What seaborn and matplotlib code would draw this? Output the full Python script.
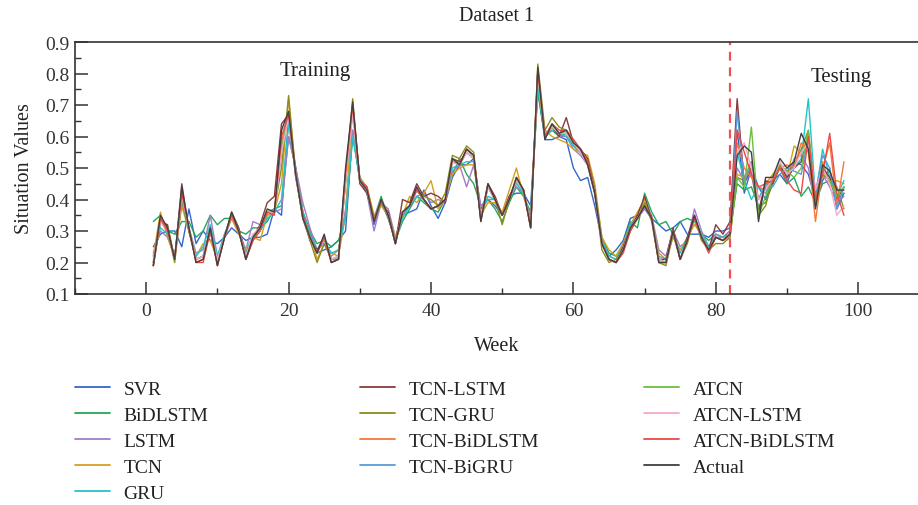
import numpy as np
import pandas as pd
import matplotlib
matplotlib.use("Agg")
import matplotlib.pyplot as plt
from matplotlib.lines import Line2D
from matplotlib.ticker import MultipleLocator
import seaborn as sns

weeks = list(range(1, 99))

svr = [0.25,0.29,0.30,0.30,0.25,0.37,0.26,0.30,0.27,0.26,
       0.28,0.31,0.29,0.27,0.28,0.28,0.29,0.37,0.35,0.66,
       0.50,0.36,0.30,0.23,0.24,0.25,0.27,0.30,0.62,0.46,
       0.43,0.32,0.39,0.34,0.27,0.35,0.36,0.37,0.43,0.38,
       0.34,0.39,0.47,0.51,0.51,0.53,0.37,0.40,0.38,0.35,
       0.41,0.42,0.42,0.38,0.75,0.59,0.59,0.60,0.59,0.50,
       0.46,0.47,0.38,0.27,0.22,0.24,0.27,0.34,0.35,0.37,
       0.34,0.32,0.30,0.31,0.33,0.29,0.29,0.29,0.28,0.30,
       0.30,0.31,0.62,0.42,0.50,0.44,0.40,0.46,0.48,0.45,
       0.52,0.51,0.48,0.40,0.46,0.50,0.37,0.42]

bidlstm = [0.33,0.35,0.30,0.29,0.33,0.33,0.28,0.30,0.35,0.32,
           0.34,0.34,0.30,0.29,0.31,0.31,0.33,0.37,0.38,0.60,
           0.50,0.36,0.30,0.26,0.27,0.25,0.27,0.34,0.60,0.47,
           0.42,0.34,0.41,0.34,0.27,0.33,0.37,0.41,0.39,0.37,
           0.36,0.40,0.48,0.53,0.48,0.45,0.38,0.40,0.37,0.33,
           0.39,0.44,0.41,0.36,0.74,0.60,0.62,0.60,0.61,0.57,
           0.55,0.52,0.43,0.28,0.23,0.22,0.26,0.33,0.31,0.42,
           0.36,0.32,0.33,0.29,0.33,0.34,0.33,0.29,0.27,0.29,
           0.28,0.30,0.45,0.43,0.44,0.38,0.39,0.45,0.50,0.45,
           0.47,0.41,0.44,0.39,0.45,0.46,0.40,0.42]

lstm = [0.23,0.30,0.28,0.22,0.39,0.31,0.23,0.24,0.35,0.22,
        0.28,0.34,0.30,0.24,0.33,0.32,0.35,0.36,0.37,0.60,
        0.50,0.39,0.31,0.24,0.26,0.22,0.24,0.37,0.62,0.46,
        0.42,0.30,0.39,0.37,0.28,0.35,0.38,0.41,0.42,0.39,
        0.40,0.39,0.49,0.51,0.44,0.51,0.38,0.40,0.40,0.35,
        0.41,0.44,0.42,0.34,0.78,0.60,0.63,0.60,0.60,0.56,
        0.54,0.51,0.43,0.27,0.22,0.21,0.26,0.32,0.34,0.37,
        0.35,0.24,0.22,0.30,0.25,0.27,0.37,0.30,0.25,0.29,
        0.28,0.30,0.50,0.46,0.48,0.36,0.44,0.47,0.50,0.46,
        0.53,0.54,0.50,0.38,0.48,0.44,0.39,0.41]

tcn = [0.22,0.36,0.28,0.22,0.38,0.30,0.22,0.26,0.27,0.21,
       0.29,0.34,0.29,0.24,0.28,0.27,0.35,0.36,0.45,0.72,
       0.48,0.36,0.29,0.21,0.26,0.23,0.22,0.35,0.70,0.47,
       0.44,0.35,0.38,0.35,0.28,0.35,0.41,0.39,0.42,0.46,
       0.37,0.40,0.48,0.50,0.51,0.51,0.35,0.39,0.39,0.36,
       0.43,0.50,0.41,0.33,0.77,0.62,0.60,0.59,0.58,0.56,
       0.55,0.54,0.45,0.28,0.24,0.22,0.26,0.32,0.36,0.40,
       0.34,0.23,0.21,0.28,0.24,0.28,0.32,0.29,0.25,0.28,
       0.27,0.28,0.48,0.47,0.52,0.40,0.45,0.48,0.51,0.47,
       0.57,0.55,0.60,0.38,0.52,0.45,0.46,0.45]

gru = [0.22,0.31,0.29,0.22,0.40,0.30,0.22,0.25,0.32,0.22,
       0.29,0.35,0.30,0.23,0.29,0.30,0.34,0.36,0.40,0.64,
       0.49,0.36,0.29,0.24,0.27,0.23,0.24,0.35,0.60,0.47,
       0.43,0.33,0.40,0.35,0.27,0.34,0.38,0.41,0.40,0.37,
       0.38,0.40,0.50,0.51,0.52,0.52,0.35,0.41,0.40,0.35,
       0.40,0.45,0.42,0.34,0.76,0.60,0.62,0.61,0.60,0.57,
       0.55,0.52,0.43,0.27,0.22,0.21,0.25,0.32,0.34,0.38,
       0.34,0.22,0.21,0.29,0.23,0.28,0.34,0.29,0.25,0.28,
       0.28,0.29,0.55,0.46,0.40,0.44,0.42,0.47,0.50,0.48,
       0.50,0.53,0.72,0.41,0.56,0.47,0.41,0.46]

tcn_lstm = [0.19,0.33,0.32,0.21,0.45,0.30,0.21,0.22,0.30,0.20,
            0.28,0.36,0.31,0.22,0.28,0.32,0.39,0.41,0.64,0.67,
            0.47,0.35,0.27,0.24,0.28,0.21,0.21,0.48,0.70,0.45,
            0.42,0.34,0.39,0.36,0.26,0.40,0.39,0.45,0.41,0.42,
            0.41,0.39,0.53,0.52,0.55,0.53,0.34,0.45,0.41,0.35,
            0.41,0.46,0.43,0.32,0.81,0.60,0.63,0.60,0.66,0.58,
            0.56,0.53,0.43,0.26,0.21,0.20,0.25,0.31,0.35,0.41,
            0.34,0.21,0.21,0.31,0.21,0.28,0.35,0.28,0.24,0.32,
            0.29,0.33,0.72,0.45,0.50,0.36,0.46,0.45,0.51,0.47,
            0.50,0.52,0.60,0.40,0.50,0.47,0.40,0.44]

tcn_gru = [0.20,0.33,0.30,0.20,0.40,0.30,0.21,0.22,0.30,0.20,
           0.28,0.35,0.30,0.21,0.27,0.31,0.36,0.37,0.50,0.73,
           0.48,0.34,0.27,0.20,0.26,0.21,0.22,0.45,0.72,0.46,
           0.44,0.34,0.39,0.35,0.26,0.36,0.38,0.43,0.41,0.40,
           0.38,0.42,0.54,0.53,0.57,0.55,0.34,0.44,0.40,0.32,
           0.40,0.47,0.43,0.31,0.83,0.62,0.66,0.63,0.62,0.59,
           0.56,0.52,0.43,0.24,0.20,0.21,0.24,0.30,0.34,0.39,
           0.33,0.20,0.19,0.29,0.21,0.26,0.34,0.27,0.24,0.26,
           0.26,0.28,0.47,0.46,0.50,0.35,0.38,0.47,0.51,0.49,
           0.51,0.56,0.62,0.39,0.48,0.46,0.44,0.37]

tcn_bidlstm = [0.19,0.34,0.31,0.21,0.42,0.31,0.20,0.21,0.31,0.19,
               0.28,0.35,0.30,0.21,0.28,0.31,0.36,0.36,0.58,0.68,
               0.48,0.34,0.28,0.23,0.28,0.20,0.21,0.48,0.70,0.46,
               0.43,0.33,0.40,0.35,0.26,0.36,0.38,0.43,0.40,0.37,
               0.38,0.40,0.52,0.51,0.56,0.54,0.34,0.44,0.40,0.35,
               0.40,0.46,0.43,0.31,0.80,0.60,0.64,0.61,0.62,0.58,
               0.55,0.51,0.42,0.26,0.21,0.20,0.24,0.31,0.34,0.38,
               0.34,0.20,0.20,0.30,0.21,0.27,0.34,0.28,0.24,0.28,
               0.27,0.29,0.58,0.50,0.47,0.44,0.43,0.46,0.50,0.51,
               0.50,0.58,0.55,0.33,0.50,0.58,0.38,0.52]

tcn_bigru = [0.20,0.33,0.31,0.21,0.42,0.31,0.21,0.22,0.30,0.20,
             0.28,0.35,0.30,0.22,0.28,0.31,0.36,0.36,0.55,0.67,
             0.48,0.34,0.28,0.23,0.28,0.21,0.21,0.46,0.69,0.46,
             0.43,0.33,0.40,0.35,0.26,0.36,0.38,0.43,0.40,0.37,
             0.38,0.40,0.52,0.51,0.55,0.53,0.34,0.44,0.40,0.35,
             0.40,0.46,0.43,0.32,0.80,0.60,0.63,0.61,0.61,0.58,
             0.55,0.51,0.42,0.26,0.21,0.20,0.24,0.31,0.34,0.38,
             0.34,0.21,0.20,0.30,0.21,0.27,0.34,0.28,0.24,0.28,
             0.27,0.29,0.68,0.45,0.52,0.40,0.45,0.44,0.48,0.50,
             0.49,0.48,0.60,0.42,0.54,0.50,0.37,0.44]

atcn = [0.20,0.33,0.31,0.21,0.41,0.31,0.21,0.22,0.30,0.20,
        0.28,0.35,0.30,0.22,0.28,0.31,0.36,0.36,0.56,0.67,
        0.48,0.34,0.28,0.23,0.28,0.21,0.21,0.46,0.68,0.46,
        0.43,0.33,0.40,0.35,0.26,0.36,0.38,0.43,0.40,0.37,
        0.38,0.40,0.52,0.51,0.55,0.53,0.34,0.44,0.40,0.35,
        0.40,0.46,0.43,0.32,0.79,0.60,0.63,0.61,0.61,0.58,
        0.55,0.51,0.42,0.26,0.21,0.20,0.24,0.31,0.34,0.38,
        0.34,0.21,0.20,0.30,0.21,0.27,0.34,0.28,0.24,0.28,
        0.27,0.29,0.47,0.44,0.63,0.35,0.41,0.47,0.51,0.49,
        0.47,0.50,0.62,0.40,0.49,0.46,0.41,0.44]

atcn_lstm = [0.21,0.33,0.30,0.21,0.41,0.31,0.21,0.22,0.30,0.21,
             0.28,0.35,0.30,0.22,0.29,0.31,0.36,0.36,0.55,0.66,
             0.48,0.34,0.28,0.23,0.28,0.21,0.22,0.46,0.67,0.46,
             0.43,0.33,0.40,0.35,0.26,0.36,0.38,0.43,0.40,0.37,
             0.38,0.40,0.52,0.51,0.55,0.53,0.34,0.44,0.40,0.35,
             0.40,0.46,0.43,0.32,0.79,0.60,0.63,0.61,0.61,0.58,
             0.55,0.51,0.42,0.26,0.21,0.20,0.24,0.31,0.34,0.38,
             0.34,0.21,0.20,0.30,0.21,0.27,0.34,0.28,0.24,0.28,
             0.27,0.29,0.55,0.58,0.50,0.40,0.43,0.47,0.52,0.48,
             0.50,0.55,0.58,0.43,0.50,0.45,0.35,0.38]

atcn_bidlstm = [0.19,0.34,0.30,0.21,0.42,0.31,0.20,0.20,0.30,0.19,
                0.28,0.35,0.30,0.21,0.27,0.30,0.36,0.35,0.60,0.67,
                0.48,0.35,0.28,0.23,0.28,0.20,0.21,0.48,0.70,0.46,
                0.44,0.33,0.40,0.35,0.26,0.36,0.38,0.43,0.40,0.37,
                0.38,0.40,0.53,0.51,0.56,0.54,0.33,0.45,0.40,0.35,
                0.40,0.47,0.43,0.31,0.81,0.60,0.64,0.62,0.62,0.59,
                0.56,0.52,0.42,0.26,0.21,0.20,0.23,0.30,0.34,0.38,
                0.34,0.20,0.20,0.30,0.21,0.27,0.34,0.28,0.23,0.28,
                0.27,0.29,0.62,0.55,0.48,0.44,0.45,0.46,0.50,0.46,
                0.43,0.42,0.60,0.40,0.48,0.61,0.42,0.35]

actual = [0.19,0.35,0.31,0.21,0.44,0.31,0.20,0.21,0.31,0.19,
          0.28,0.36,0.30,0.21,0.28,0.31,0.37,0.36,0.62,0.68,
          0.48,0.34,0.28,0.23,0.29,0.20,0.21,0.50,0.71,0.46,
          0.43,0.33,0.40,0.35,0.26,0.36,0.38,0.44,0.40,0.37,
          0.38,0.40,0.53,0.51,0.56,0.54,0.33,0.45,0.40,0.35,
          0.40,0.47,0.43,0.31,0.82,0.59,0.64,0.61,0.62,0.58,
          0.56,0.51,0.42,0.26,0.21,0.20,0.24,0.31,0.34,0.38,
          0.34,0.20,0.20,0.30,0.21,0.27,0.35,0.28,0.24,0.28,
          0.27,0.29,0.54,0.57,0.55,0.33,0.47,0.47,0.53,0.50,
          0.52,0.61,0.56,0.37,0.51,0.49,0.43,0.43]

models = ["SVR", "BiDLSTM", "LSTM", "TCN", "GRU",
          "TCN-LSTM", "TCN-GRU", "TCN-BiDLSTM", "TCN-BiGRU",
          "ATCN", "ATCN-LSTM", "ATCN-BiDLSTM", "Actual"]
series = [svr, bidlstm, lstm, tcn, gru, tcn_lstm, tcn_gru, tcn_bidlstm,
          tcn_bigru, atcn, atcn_lstm, atcn_bidlstm, actual]
colors = ["#3366cc", "#22a85a", "#a67cc8", "#d4a020", "#22c4c8",
          "#8b3a3a", "#8c8c1c", "#f5783c", "#5b9bd5",
          "#6cbf40", "#f6a8cc", "#ee4848", "#404040"]
split_week = 82

rows = []
for m, s in zip(models, series):
    for w, v in zip(weeks, s):
        rows.append((m, w, v))
df = pd.DataFrame(rows, columns=["Model", "Week", "Value"])

sns.set_style("ticks")
plt.rcParams["font.family"] = ["Liberation Serif", "DejaVu Serif"]

fig = plt.figure(figsize=(9.18, 5.06), dpi=100)
ax = fig.add_axes([75/918, 1-295/506, 1-75/918, (295-43)/506])

palette = dict(zip(models, colors))
sns.lineplot(data=df, x="Week", y="Value", hue="Model", hue_order=models,
             palette=palette, legend=False, lw=1.0, ax=ax)

ax.axvline(split_week, color="#f05050", ls=(0, (4, 3)), lw=1.6)

ax.set_xlim(-10, 108.4)
ax.set_ylim(0.1, 0.9)
ax.xaxis.set_major_locator(MultipleLocator(20))
ax.xaxis.set_minor_locator(MultipleLocator(10))
ax.yaxis.set_major_locator(MultipleLocator(0.1))
ax.yaxis.set_minor_locator(MultipleLocator(0.05))
ax.set_yticklabels([f"{v:.1f}" for v in ax.get_yticks()])
ax.tick_params(which="major", direction="in", length=9, width=1.1,
               labelsize=14, colors="#333333", pad=6)
ax.tick_params(which="minor", direction="in", length=4.5, width=1.0,
               colors="#333333")
ax.tick_params(axis="y", pad=4)
for sp in ["left", "bottom", "top"]:
    ax.spines[sp].set_color("#333333")
    ax.spines[sp].set_linewidth(1.2)
ax.spines["right"].set_visible(False)

ax.set_xlabel("Week", fontsize=14.5, color="#222222", labelpad=12)
ax.set_ylabel("Situation Values", fontsize=14.5, color="#222222", labelpad=8)
ax.set_title("Dataset 1", fontsize=14.5, color="#222222", pad=16)

ax.text(23.7, 0.81, "Training", fontsize=15, ha="center", va="center",
        color="#222222")
ax.text(97.6, 0.79, "Testing", fontsize=15, ha="center", va="center",
        color="#222222")

handles = [Line2D([], [], color=c, lw=1.3) for c in colors]
cols = [(0, 5, 75), (5, 9, 360), (9, 13, 644)]
for a, b, xpx in cols:
    leg = fig.legend(handles[a:b], models[a:b], loc="upper left",
                     bbox_to_anchor=(xpx/918, 1-381/506), frameon=False,
                     fontsize=14, handlelength=1.8, handletextpad=0.7,
                     borderpad=0, borderaxespad=0, labelspacing=0.44)
    for t in leg.get_texts():
        t.set_color("#222222")

fig.savefig("out.png", dpi=100)
